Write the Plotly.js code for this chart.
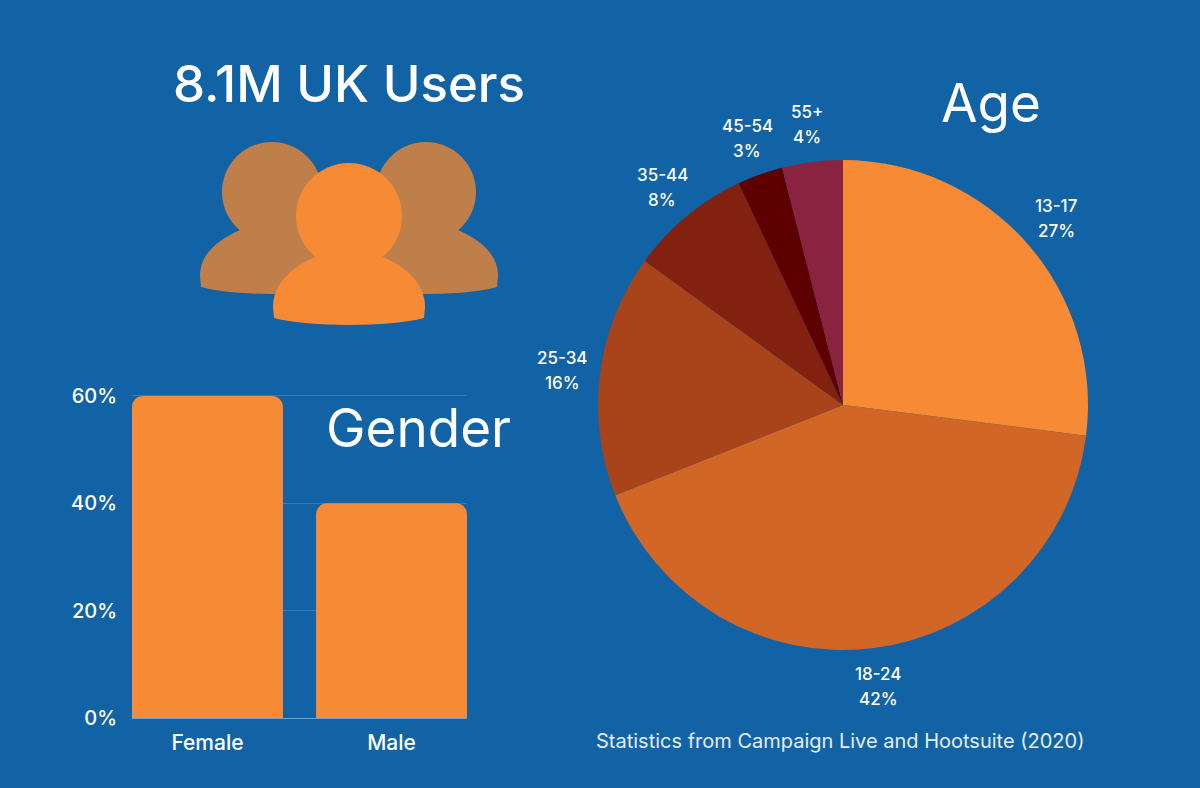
<!DOCTYPE html>
<html>
<head>
<meta charset="utf-8">
<script src="https://cdn.plot.ly/plotly-3.0.1.min.js"></script>
<style>html,body{margin:0;padding:0;background:#1163A5;}#chart{width:1200px;height:788px;}</style>
</head>
<body>
<div id="chart"></div>
<script>
var genderCategories = ['Female', 'Male'];
var genderValues = [60, 40];
var ageCategories = ['13-17', '18-24', '25-34', '35-44', '45-54', '55+'];
var ageValues = [27, 42, 16, 8, 3, 4];
var ageColors = ['#F78A35', '#D16626', '#A9431A', '#822110', '#5E0000', '#8A2340'];
var yTicks = [0, 20, 40, 60];
var yTickLabels = ['0%', '20%', '40%', '60%'];
var ageLabelCentres = [[1056, 206], [878, 674], [562, 358], [662, 175], [747, 126], [807, 112]];

var W = 1200, H = 788;
var FONT = 'Inter, "Open Sans", sans-serif';
function fx(p){ return p / W; }
function fy(p){ return 1 - p / H; }

function pt(x, y){ return fx(x) + ',' + fy(y); }
function headPath(cx, cy, r){
  var k = 0.5523 * r;
  return 'M' + pt(cx - r, cy) +
    'C' + pt(cx - r, cy - k) + ' ' + pt(cx - k, cy - r) + ' ' + pt(cx, cy - r) +
    'C' + pt(cx + k, cy - r) + ' ' + pt(cx + r, cy - k) + ' ' + pt(cx + r, cy) +
    'C' + pt(cx + r, cy + k) + ' ' + pt(cx + k, cy + r) + ' ' + pt(cx, cy + r) +
    'C' + pt(cx - k, cy + r) + ' ' + pt(cx - r, cy + k) + ' ' + pt(cx - r, cy) + 'Z';
}
function bodyPath(cx, top, edge, halfW, shoulder){
  // dome with a shallow curved base
  var side = edge - 11, ctrl = edge + 9.3;
  return 'M' + pt(cx - shoulder, top) +
    'C' + pt(cx - halfW + 14, top + 12) + ' ' + pt(cx - halfW, side - 20) + ' ' + pt(cx - halfW, side) +
    'L' + pt(cx - halfW + 1, edge) +
    'C' + pt(cx - 40, ctrl) + ' ' + pt(cx + 40, ctrl) + ' ' + pt(cx + halfW - 1, edge) +
    'L' + pt(cx + halfW, side) +
    'C' + pt(cx + halfW, side - 20) + ' ' + pt(cx + halfW - 14, top + 12) + ' ' + pt(cx + shoulder, top) + 'Z';
}
function iconShape(path, color){
  return {type: 'path', xref: 'paper', yref: 'paper', path: path, fillcolor: color, line: {width: 0}, layer: 'above'};
}
var backColor = '#BF7F4B', frontColor = '#F78A35';
var shapes = [
  iconShape(headPath(272, 192, 50), backColor),
  iconShape(bodyPath(273, 230, 287, 73, 33), backColor),
  iconShape(headPath(426, 192, 50), backColor),
  iconShape(bodyPath(425, 230, 287, 73, 33), backColor),
  iconShape(headPath(349, 216, 53), frontColor),
  iconShape(bodyPath(349, 257, 318, 76, 34), frontColor)
];

function label(text, x, y, size, color, weight){
  return {xref: 'paper', yref: 'paper', x: fx(x), y: fy(y), text: text, showarrow: false,
    xanchor: 'center', yanchor: 'middle', font: {family: FONT, size: size, color: color || '#FFFFFF', weight: weight || 400}};
}

var annotations = [
  label('8.1M UK Users', 349, 84, 51, '#FFFFFF', 500),
  label('Gender', 418, 428, 53),
  label('Age', 991, 103, 53),
  label('Statistics from Campaign Live and Hootsuite (2020)', 840, 741, 20, '#E6EEF5')
];
ageCategories.forEach(function(name, i){
  var c = ageLabelCentres[i];
  annotations.push(label(name, c[0], c[1], 17, '#FFFFFF', 500));
  annotations.push(label(ageValues[i] + '%', c[0], c[1] + 25, 17, '#FFFFFF', 500));
});

var traces = [
  {type: 'bar', x: genderCategories, y: genderValues, marker: {color: frontColor, line: {width: 0}},
   xaxis: 'x', yaxis: 'y', hoverinfo: 'x+y'},
  {type: 'pie', labels: ageCategories, values: ageValues, sort: false, direction: 'clockwise', rotation: 0,
   marker: {colors: ageColors, line: {width: 0}},
   domain: {x: [fx(598), fx(1088)], y: [fy(650), fy(160)]},
   textinfo: 'none', automargin: false, showlegend: false}
];

var layout = {
  width: W, height: H,
  margin: {l: 0, r: 0, t: 0, b: 0},
  paper_bgcolor: '#1163A5', plot_bgcolor: 'rgba(0,0,0,0)',
  showlegend: false,
  bargap: 0.18,
  barcornerradius: 11,
  font: {family: FONT, color: '#FFFFFF'},
  xaxis: {domain: [fx(132), fx(467)], range: [-0.41, 1.41], type: 'category', showgrid: false,
    showline: false, zeroline: false, ticks: 'outside', ticklen: 6, tickcolor: 'rgba(0,0,0,0)',
    tickfont: {family: FONT, size: 21, color: '#FFFFFF', weight: 500}},
  yaxis: {domain: [fy(718), fy(394)], range: [0, 60.37], tickmode: 'array', tickvals: yTicks, ticktext: yTickLabels,
    showgrid: true, gridcolor: 'rgba(255,255,255,0.16)', gridwidth: 1,
    zeroline: true, zerolinecolor: 'rgba(255,255,255,0.4)', zerolinewidth: 1,
    showline: false, ticks: 'outside', ticklen: 10, tickcolor: 'rgba(0,0,0,0)',
    tickfont: {family: FONT, size: 20, color: '#FFFFFF', weight: 500}},
  shapes: shapes,
  annotations: annotations
};
Plotly.newPlot('chart', traces, layout, {displayModeBar: false, staticPlot: true});
</script>
</body>
</html>
